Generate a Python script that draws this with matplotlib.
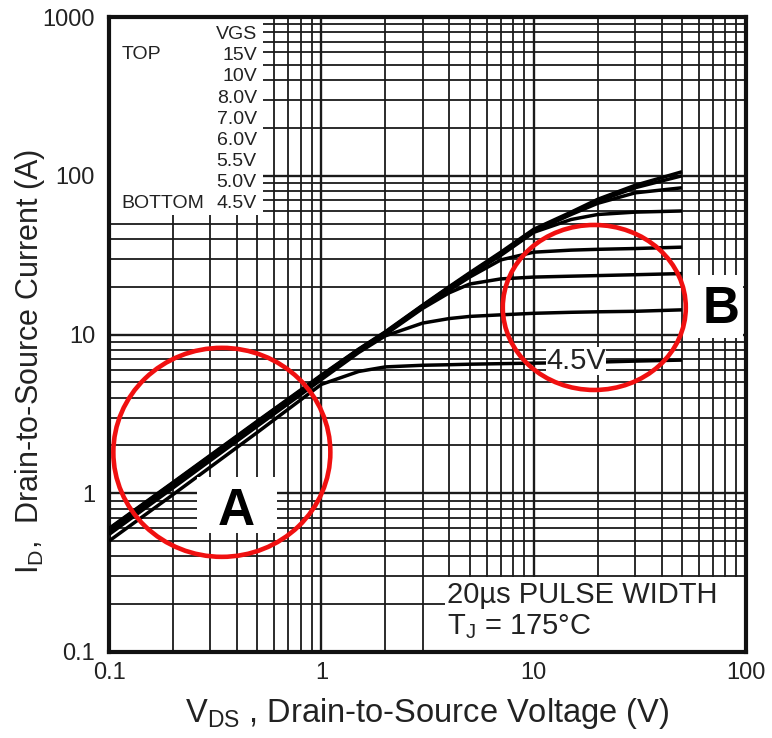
import matplotlib
matplotlib.use('Agg')
import matplotlib.pyplot as plt
from matplotlib.patches import Rectangle, Ellipse
from matplotlib.transforms import ScaledTranslation
from matplotlib.ticker import LogLocator, NullFormatter, FixedLocator

plt.rcParams['font.family'] = ['Liberation Sans', 'DejaVu Sans']
plt.rcParams['mathtext.fontset'] = 'custom'
plt.rcParams['mathtext.rm'] = 'Liberation Sans'
plt.rcParams['mathtext.it'] = 'Liberation Sans'

# ---- data ----
VDS = [0.1, 0.2, 0.5, 1, 1.5, 2, 3, 4, 5, 7, 10, 15, 20, 30, 50]
ID_15V = [0.60, 1.17, 2.85, 5.55, 8.1, 10.4, 15.3, 20, 24.5, 33, 46, 59, 71, 87, 106]
ID_10V = [0.595, 1.16, 2.82, 5.5, 8.05, 10.3, 15.2, 19.8, 24.2, 32.5, 45, 58, 69, 84, 100]
ID_8V = [0.59, 1.15, 2.8, 5.45, 8.0, 10.25, 15.1, 19.6, 24.0, 32, 44.5, 57, 67, 78, 84]
ID_7V = [0.585, 1.14, 2.78, 5.4, 7.95, 10.2, 15.0, 19.4, 23.8, 31.5, 44, 53, 57, 59, 60]
ID_6V = [0.58, 1.13, 2.75, 5.35, 7.9, 10.1, 14.8, 19.0, 23.0, 29.5, 33, 34, 34.4, 34.8, 35.5]
ID_55V = [0.57, 1.11, 2.72, 5.3, 7.85, 10.0, 14.6, 18.3, 20.8, 22.4, 23, 23.3, 23.5, 23.8, 24.2]
ID_5V = [0.55, 1.08, 2.65, 5.2, 7.7, 9.8, 11.8, 12.6, 13.0, 13.3, 13.6, 13.8, 13.9, 14.0, 14.3]
ID_45V = [0.50, 0.98, 2.42, 4.85, 5.85, 6.25, 6.4, 6.45, 6.5, 6.55, 6.6, 6.65, 6.7, 6.8, 6.9]
CURVES = [ID_15V, ID_10V, ID_8V, ID_7V, ID_6V, ID_55V, ID_5V, ID_45V]

LEGEND_LABELS = ['VGS', '15V', '10V', '8.0V', '7.0V', '6.0V', '5.5V', '5.0V', '4.5V']
XTICKS = [0.1, 1, 10, 100]
XTICK_LABELS = ['0.1', '1', '10', '100']
YTICKS = [0.1, 1, 10, 100, 1000]
YTICK_LABELS = ['0.1', '1', '10', '100', '1000']

# highlighted regions (centre in data units, size in inches)
CIRCLE_A = (0.34, 1.81, 2.17, 2.09)
CIRCLE_B = (19.3, 14.8, 1.83, 1.65)

TXT = '#222222'
RED = '#f01010'

# ---- figure ----
fig = plt.figure(figsize=(7.72, 7.38), dpi=100)
ax = fig.add_axes([109 / 772, 1 - 652 / 738, 637 / 772, 635 / 738])
ax.set_xscale('log')
ax.set_yscale('log')
ax.set_xlim(0.1, 100)
ax.set_ylim(0.1, 1000)

ax.xaxis.set_major_locator(FixedLocator(XTICKS))
ax.yaxis.set_major_locator(FixedLocator(YTICKS))
ax.set_xticklabels(XTICK_LABELS)
ax.set_yticklabels(YTICK_LABELS)
ax.xaxis.set_minor_locator(LogLocator(base=10, subs=range(2, 10)))
ax.yaxis.set_minor_locator(LogLocator(base=10, subs=range(2, 10)))
ax.xaxis.set_minor_formatter(NullFormatter())
ax.yaxis.set_minor_formatter(NullFormatter())
ax.tick_params(which='both', length=0, labelsize=17, colors=TXT)
ax.tick_params(axis='x', pad=7)
ax.tick_params(axis='y', pad=10)

ax.set_axisbelow(True)
ax.grid(True, which='major', color='#1a1a1a', lw=1.7)
ax.grid(True, which='minor', color='#1a1a1a', lw=1.3)
for sp in ax.spines.values():
    sp.set_linewidth(3)
    sp.set_color('#111111')

# curves
for ids in CURVES:
    ax.plot(VDS, ids, color='black', lw=2.5, solid_capstyle='butt', zorder=3)

# white boxes behind the legend and the pulse note
for (x0, y0, w, h) in [(0, 0.688, 0.242, 0.312), (0.527, 0, 0.473, 0.118)]:
    ax.add_patch(Rectangle((x0, y0), w, h, transform=ax.transAxes,
                           fc='white', ec='none', zorder=2))
# white boxes behind the A and B labels (above the curves)
for (x0, y0, w, h) in [(0.138, 0.187, 0.126, 0.089), (0.901, 0.494, 0.094, 0.100)]:
    ax.add_patch(Rectangle((x0, y0), w, h, transform=ax.transAxes,
                           fc='white', ec='none', zorder=5))

# legend text
for i, lab in enumerate(LEGEND_LABELS):
    ax.text(0.232, 0.972 - i * 0.0332, lab, transform=ax.transAxes, ha='right',
            va='center', fontsize=14, color=TXT, zorder=4)
ax.text(0.02, 0.941, 'TOP', transform=ax.transAxes, ha='left', va='center',
        fontsize=14, color=TXT, zorder=4)
ax.text(0.02, 0.706, 'BOTTOM', transform=ax.transAxes, ha='left', va='center',
        fontsize=14, color=TXT, zorder=4)

# pulse note
ax.text(0.530, 0.090, '20\u00b5s PULSE WIDTH', transform=ax.transAxes, ha='left',
        va='center', fontsize=21, color=TXT, zorder=4)
ax.text(0.530, 0.040, 'T$_{\\mathrm{J}}$ = 175\u00b0C', transform=ax.transAxes, ha='left',
        va='center', fontsize=21, color=TXT, zorder=4)

# 4.5V label
ax.text(0.733, 0.458, '4.5V', transform=ax.transAxes, ha='center', va='center',
        fontsize=21, color=TXT, zorder=5,
        bbox=dict(fc='white', ec='none', pad=0.3))

# red circles
for (cx, cy, w, h) in [CIRCLE_A, CIRCLE_B]:
    tr = fig.dpi_scale_trans + ScaledTranslation(cx, cy, ax.transData)
    ax.add_patch(Ellipse((0, 0), w, h, transform=tr, fc='none', ec=RED,
                         lw=3.3, zorder=6, clip_on=False))

# A / B labels
ax.text(0.2, 0.222, 'A', transform=ax.transAxes, ha='center', va='center',
        fontsize=37, fontweight='bold', color='black', zorder=7)
ax.text(0.961, 0.539, 'B', transform=ax.transAxes, ha='center', va='center',
        fontsize=37, fontweight='bold', color='black', zorder=7)

ax.set_xlabel('V$_{\\mathrm{DS}}$ , Drain-to-Source Voltage (V)', fontsize=23.5,
              color=TXT, labelpad=9)
ax.set_ylabel('I$_{\\mathrm{D}}$,  Drain-to-Source Current (A)', fontsize=22,
              color=TXT)
ax.yaxis.set_label_coords(-0.098, 0.457)

fig.savefig('out.png', dpi=100)
